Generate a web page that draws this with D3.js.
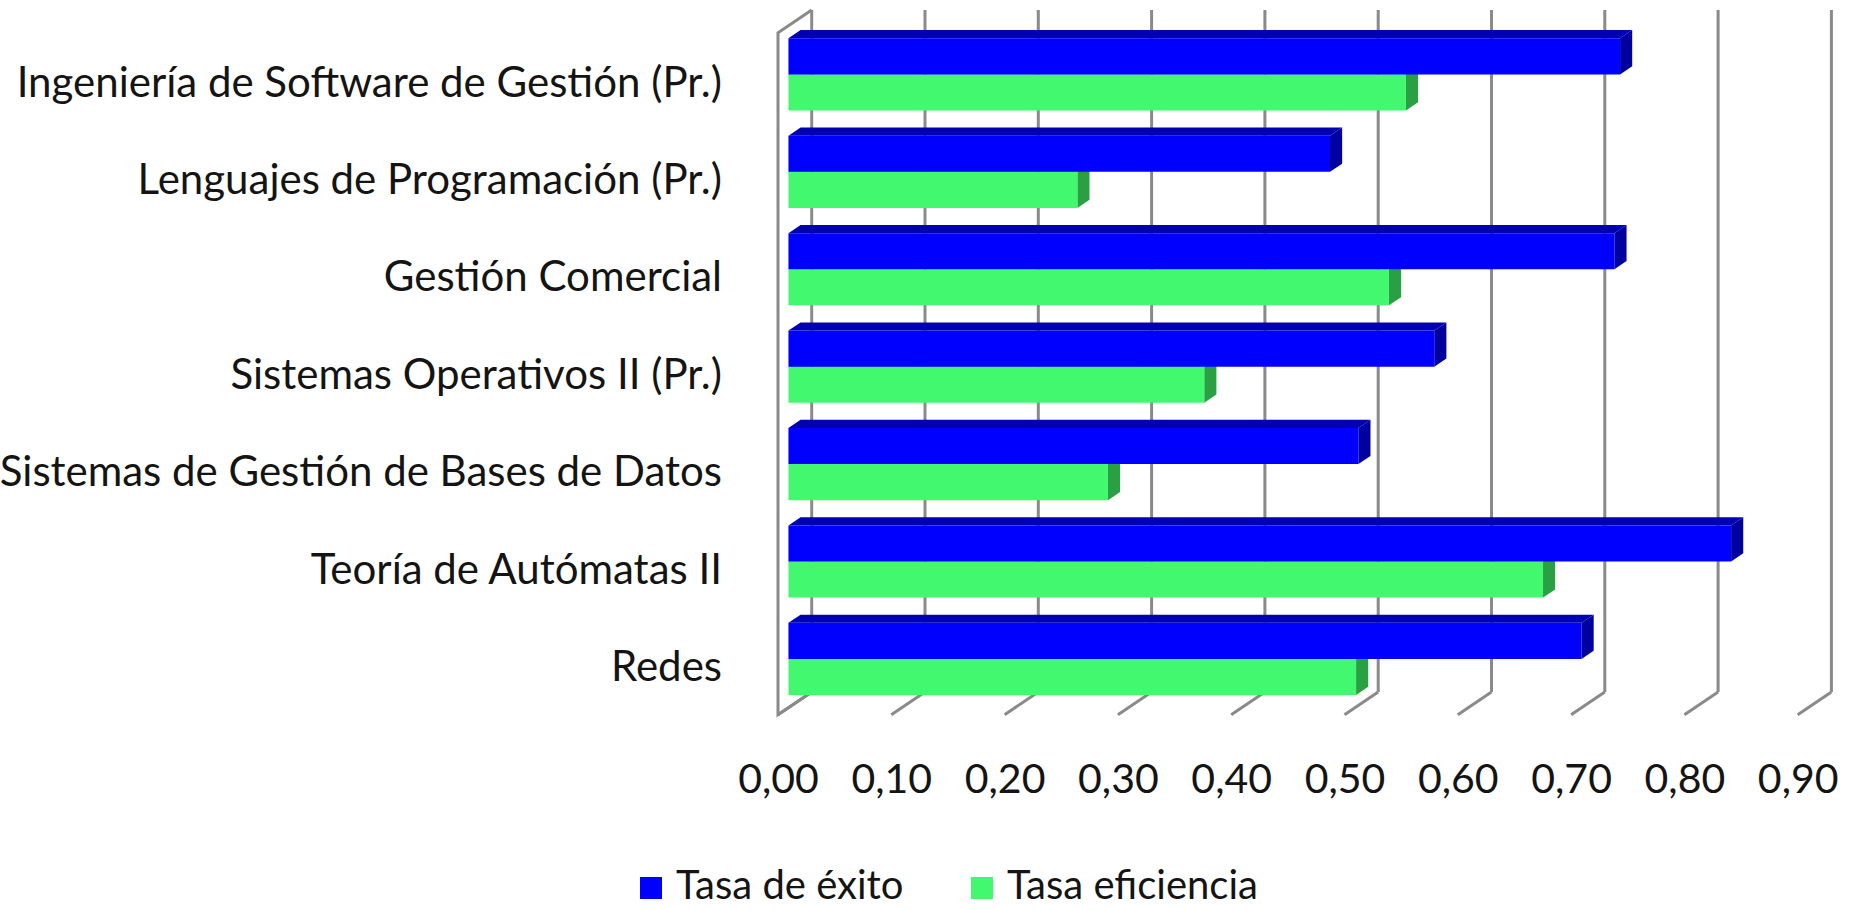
<!DOCTYPE html>
<html>
<head>
<meta charset="utf-8">
<script src="https://cdn.jsdelivr.net/npm/d3@7/dist/d3.min.js"></script>
<style>
  html, body { margin: 0; padding: 0; background: #ffffff; }
  svg { display: block; }
  text { font-family: Lato, "Open Sans", sans-serif; fill: #141414; }
</style>
</head>
<body>
<svg id="chart" width="1865" height="910"></svg>
<script>
// ---- data ----
const categories = [
  "Ingeniería de Software de Gestión (Pr.)",
  "Lenguajes de Programación (Pr.)",
  "Gestión Comercial",
  "Sistemas Operativos II (Pr.)",
  "Sistemas de Gestión de Bases de Datos",
  "Teoría de Autómatas II",
  "Redes"
];
const seriesNames = ["Tasa de éxito", "Tasa eficiencia"];
const tasaExito      = [0.734, 0.478, 0.729, 0.570, 0.503, 0.832, 0.700];
const tasaEficiencia = [0.545, 0.255, 0.530, 0.367, 0.282, 0.666, 0.501];
const tickValues = [0, 0.1, 0.2, 0.3, 0.4, 0.5, 0.6, 0.7, 0.8, 0.9];

// ---- styling ----
const colors = {
  "Tasa de éxito":   { front: "#0000ff", top: "#0000b2", side: "#0000a0" },
  "Tasa eficiencia": { front: "#42f86e", top: "#2fb04e", side: "#29a044" }
};
const gridColor = "#8a8a8a";
const catFontSize = 42;
const tickFontSize = 41;
const legendFontSize = 40;

const svg = d3.select("#chart");

// ---- 3D geometry ----
const depthDX = 33.7, depthDY = 22.7;     // offset from front plane to back wall
const frontTop = 32.7, frontBottom = 714.7;
const xFront = d3.scaleLinear().domain([0, 0.9]).range([778, 1797.7]);
const xBack = v => xFront(v) + depthDX;
const yBand = d3.scaleBand().domain(categories).range([frontTop, frontBottom]).padding(0);
const ySub = d3.scaleBand().domain(seriesNames).range([0, yBand.bandwidth()]).paddingInner(0).paddingOuter(0.35);
const d1 = 0.31, d2 = 0.67;               // bar depth span (fraction from front)

// projection: value v, front-plane y, depth d (0 front .. 1 back)
const P = (v, y, d) => [xFront(v) + d * depthDX, y - d * depthDY];

// ---- walls / gridlines ----
const grid = svg.append("g").attr("fill", "none").attr("stroke", gridColor).attr("stroke-width", 3);

// left side wall outline
grid.append("polyline")
  .attr("points", [P(0, frontTop, 1), P(0, frontTop, 0), P(0, frontBottom, 0), P(0, frontBottom, 1)].map(p => p.join(",")).join(" "));

// back wall vertical gridlines
grid.selectAll("line.v").data(tickValues).join("line")
  .attr("class", "v")
  .attr("x1", d => xBack(d)).attr("x2", d => xBack(d))
  .attr("y1", frontTop - depthDY).attr("y2", frontBottom - depthDY);

// floor diagonal gridlines
grid.selectAll("line.f").data(tickValues).join("line")
  .attr("class", "f")
  .attr("x1", d => xBack(d)).attr("y1", frontBottom - depthDY)
  .attr("x2", d => xFront(d)).attr("y2", frontBottom);

// ---- bars ----
const barData = [];
categories.forEach((c, i) => {
  // green first (lower, drawn behind blue)
  barData.push({ cat: c, series: "Tasa eficiencia", value: tasaEficiencia[i] });
  barData.push({ cat: c, series: "Tasa de éxito", value: tasaExito[i] });
});

const bars = svg.append("g");
barData.forEach(b => {
  const y0 = yBand(b.cat) + ySub(b.series);
  const y1 = y0 + ySub.bandwidth();
  const col = colors[b.series];
  const g = bars.append("g");
  const pts = arr => arr.map(p => p.join(",")).join(" ");
  // top face
  g.append("polygon")
    .attr("points", pts([P(0, y0, d1), P(0, y0, d2), P(b.value, y0, d2), P(b.value, y0, d1)]))
    .attr("fill", col.top);
  // right side face
  g.append("polygon")
    .attr("points", pts([P(b.value, y0, d1), P(b.value, y0, d2), P(b.value, y1, d2), P(b.value, y1, d1)]))
    .attr("fill", col.side);
  // front face
  g.append("polygon")
    .attr("points", pts([P(0, y0, d1), P(b.value, y0, d1), P(b.value, y1, d1), P(0, y1, d1)]))
    .attr("fill", col.front);
});

// ---- axes labels ----
const fmt = d3.formatLocale({ decimal: ",", thousands: ".", grouping: [3], currency: ["", " €"] }).format(".2f");

const xAxis = svg.append("g")
  .attr("transform", "translate(0,793)")
  .call(d3.axisBottom(xFront).tickValues(tickValues).tickFormat(fmt).tickSize(0).tickPadding(0));
xAxis.select(".domain").remove();
xAxis.selectAll("text")
  .attr("y", 0).attr("dy", null)
  .attr("font-size", tickFontSize)
  .style("font-family", "Lato, 'Open Sans', sans-serif")
  .attr("fill", "#141414");

const yAxis = svg.append("g")
  .attr("transform", "translate(722,0)")
  .call(d3.axisLeft(yBand).tickSize(0).tickPadding(0));
yAxis.select(".domain").remove();
yAxis.selectAll("text")
  .attr("dy", "0.36em")
  .attr("font-size", catFontSize)
  .style("font-family", "Lato, 'Open Sans', sans-serif")
  .attr("fill", "#141414");

// ---- legend ----
const legendX = [640, 971];
const legend = svg.append("g");
seriesNames.forEach((s, i) => {
  legend.append("rect")
    .attr("x", legendX[i]).attr("y", 877)
    .attr("width", 22).attr("height", 22)
    .attr("fill", colors[s].front);
  legend.append("text")
    .attr("x", legendX[i] + 36).attr("y", 899)
    .attr("font-size", legendFontSize)
    .text(s);
});
</script>
</body>
</html>
